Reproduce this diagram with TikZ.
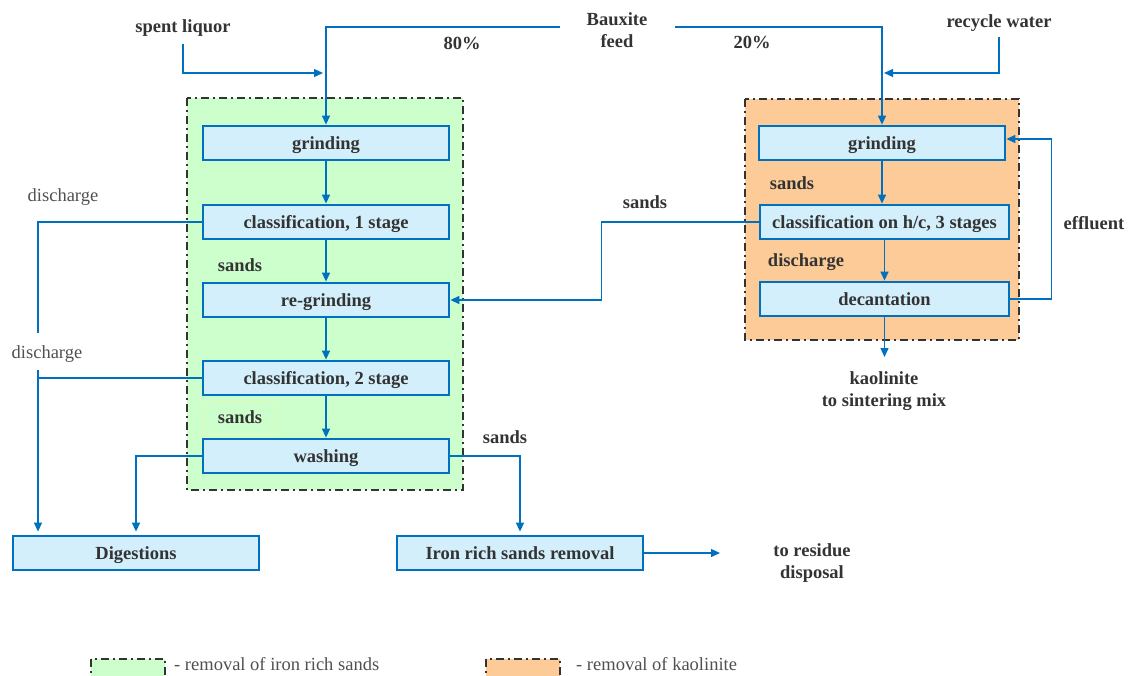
\documentclass[tikz,border=0pt]{standalone}
\usepackage{fontspec}
\setmainfont{Liberation Serif}
\usetikzlibrary{arrows.meta}
\definecolor{lblue}{HTML}{0070C0}
\definecolor{boxfill}{HTML}{D3EFFC}
\definecolor{lgreen}{HTML}{CCFFCC}
\definecolor{lorange}{HTML}{FCCB98}
\definecolor{txt}{HTML}{333333}
\definecolor{txtgray}{HTML}{505050}
\definecolor{dkgray}{HTML}{333333}
\definecolor{faint}{HTML}{E4FBB8}
\begin{document}
\begin{tikzpicture}[x=1pt,y=-1pt,
  proc/.style={draw=lblue, line width=2.8pt, fill=boxfill, minimum width=246pt, minimum height=34pt, inner sep=0pt, text height=17pt, text depth=4pt, font=\bfseries\fontsize{18.5}{20}\selectfont, text=txt},
  lbl/.style={font=\bfseries\fontsize{18.5}{22}\selectfont, text=txt, align=center, inner sep=1pt},
  note/.style={font=\fontsize{18.5}{20}\selectfont, text=txtgray, inner sep=1pt},
  flow/.style={draw=lblue, line width=1.4pt},
  arr/.style={flow, -{Triangle[length=9pt,width=8pt]}},
  region/.style={draw=dkgray, line width=2.2pt, dash pattern=on 8pt off 4pt on 2pt off 4pt}
]
\useasboundingbox (0,0) rectangle (1129,676);

% regions
\draw[region, fill=lgreen] (187,98) rectangle (463,490);
\draw[region, fill=lorange] (745,99) rectangle (1019,340);

% left column
\node[proc] (g1) at (326,143) {grinding};
\node[proc] (c1) at (326,222) {classification, 1 stage};
\node[proc] (rg) at (326,300) {re-grinding};
\node[proc] (c2) at (326,378) {classification, 2 stage};
\node[proc] (wa) at (326,456) {washing};

% right column
\node[proc] (g2) at (882,143) {grinding};
\node[proc, minimum width=249pt] (c3) at (884.5,222) {classification on h/c, 3 stages};
\node[proc, minimum width=249pt] (dec) at (884.5,299) {decantation};

% bottom
\node[proc] (dig) at (136,553) {Digestions};
\node[proc] (iron) at (520,553) {Iron rich sands removal};

% labels
\node[lbl] (sl) at (183,28) {spent liquor};
\node[lbl] (bx) at (617,30) {Bauxite\\feed};
\node[lbl] (p80) at (462,43) {80\%};
\node[lbl] (p20) at (752,42) {20\%};
\node[lbl] (rw) at (999,23) {recycle water};
\node[note] (dis1) at (63,197) {discharge};
\node[note] (dis2) at (47,354) {discharge};
\node[lbl] (s1) at (240,265) {sands};
\node[lbl, draw=faint, line width=0.8pt, minimum width=75pt, minimum height=34pt] (s2) at (240,417) {sands};
\node[lbl] (s3) at (505,437) {sands};
\node[lbl] (s4) at (645,202) {sands};
\node[lbl] (s5) at (792,183) {sands};
\node[lbl] (dis3) at (806,262) {discharge};
\node[lbl] (eff) at (1094,223) {effluent};
\node[lbl] (kao) at (884,391) {kaolinite\\to sintering mix};
\node[lbl] (res) at (812,563) {to residue\\disposal};

% feed lines
\coordinate (bL) at (560,27);
\coordinate (bR) at (675,27);
\draw[arr] (bL) -| (g1.north);
\draw[arr] (bR) -| (g2.north);
\coordinate (j1) at (326,73);
\coordinate (j2) at (882,73);
\draw[arr, shorten <=6pt, shorten >=3pt] (sl.south) |- (j1);
\draw[arr, shorten <=4pt, shorten >=2pt] (rw.south) |- (j2);

% left flows
\draw[arr] (g1) -- (c1);
\draw[arr] (c1) -- (rg);
\draw[arr] (rg) -- (c2);
\draw[arr] (c2) -- (wa);
\coordinate (dA) at (38,333);
\coordinate (dB) at (38,370);
\draw[flow] (c1.west) -| (dA);
\draw[arr, shorten >=3pt] (dB) -- (dB |- dig.north);
\draw[flow] (c2.west) -- (c2.west -| dB);
\draw[arr, shorten >=3pt] (wa.west) -| (dig.north);
\draw[arr, shorten >=3pt] (wa.east) -| (iron.north);
\coordinate (rz) at (720,551);
\draw[arr] (iron.east) -- (iron.east -| rz);

% right flows
\draw[arr] (g2.south) -- (g2.south |- c3.north);
\draw[arr] (c3.south) -- (c3.south |- dec.north);
\coordinate (kz) at (884.5,357);
\draw[arr] (dec.south) -- (kz);
\draw[arr] (dec.east) -- ++(41,0) |- ([yshift=4pt]g2.east);
\draw[arr] (c3.west) -- ++(-157,0) |- (rg.east);

% legend
\draw[region, fill=lgreen] (91,659) rectangle (165,684);
\node[note, anchor=west] (leg1) at (173,664) {- removal of iron rich sands};
\draw[region, fill=lorange] (486,659) rectangle (560,684);
\node[note, anchor=west] (leg2) at (575,664) {- removal of kaolinite};
\end{tikzpicture}
\end{document}
